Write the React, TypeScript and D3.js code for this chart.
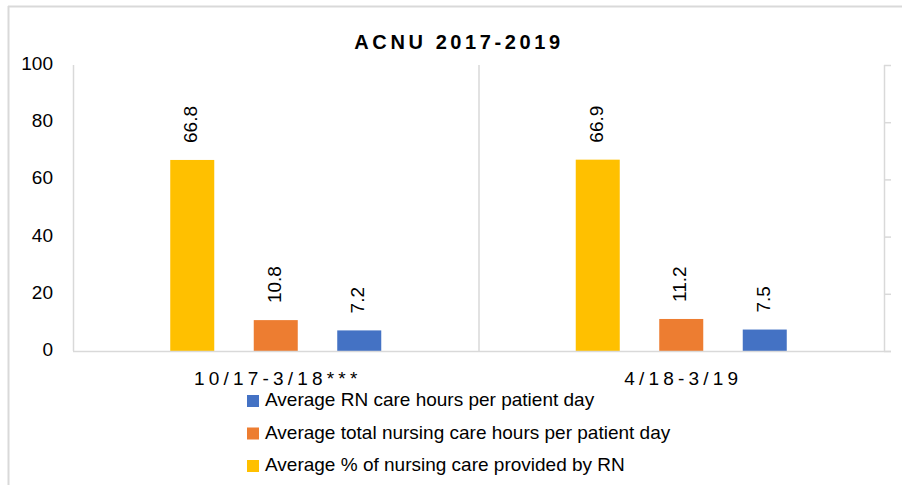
import * as d3 from 'd3'

const periods = ['10/17-3/18***', '4/18-3/19']
const seriesNames = [
  'Average % of nursing care provided by RN',
  'Average total nursing care hours per patient day',
  'Average RN care hours per patient day',
]
const pctByRN = [66.8, 66.9]
const totalHours = [10.8, 11.2]
const rnHours = [7.2, 7.5]
const yTicks = [0, 20, 40, 60, 80, 100]

const colors = ['#FFC000', '#ED7D31', '#4472C4']
const grid = '#D9D9D9'
const font = '"Liberation Sans", Arial, sans-serif'

export default function App() {
  const width = 902
  const height = 485
  const plotLeft = 73
  const plotRight = 884
  const plotTop = 65
  const plotBottom = 351

  const series = [pctByRN, totalHours, rnHours]

  const x = d3.scaleBand<string>().domain(periods).range([plotLeft, plotRight])
  // bar cluster: 44px bars, 83.5px step, centred in each category
  const groupW = 250.5
  const inner = d3
    .scaleBand<number>()
    .domain([0, 1, 2])
    .range([x.bandwidth() / 2 - groupW / 2, x.bandwidth() / 2 + groupW / 2])
    .paddingInner(0.473)
    .paddingOuter(0.2365)
  const y = d3.scaleLinear().domain([0, 100]).range([plotBottom, plotTop])

  // legend shows series in reverse order
  const legendOrder = [2, 1, 0]

  return (
    <svg
      width={width}
      height={height}
      style={{ display: 'block', position: 'absolute', left: 0, top: 0 }}
      fontFamily={font}
    >
      <rect width={width} height={height} fill="#fff" />
      {/* outer frame */}
      <line x1={8.5} x2={8.5} y1={6} y2={height} stroke={grid} strokeWidth={2} />
      <line x1={8} x2={width} y1={6.5} y2={6.5} stroke={grid} strokeWidth={2} />

      <text
        x={459}
        y={49}
        textAnchor="middle"
        fontWeight="bold"
        fontSize={20}
        letterSpacing={3.6}
        fill="#000"
      >
        ACNU 2017-2019
      </text>

      {/* y labels */}
      {yTicks.map((t) => (
        <text
          key={t}
          x={53}
          y={y(t)}
          textAnchor="end"
          dominantBaseline="middle"
          fontSize={19}
          fill="#000"
        >
          {t}
        </text>
      ))}

      {/* axes and separators */}
      <line x1={plotLeft + 0.5} x2={plotLeft + 0.5} y1={plotTop} y2={plotBottom} stroke={grid} strokeWidth={1.5} />
      <line x1={plotRight + 0.5} x2={plotRight + 0.5} y1={plotTop} y2={plotBottom} stroke={grid} strokeWidth={1.5} />
      {periods.slice(1).map((p) => (
        <line
          key={p}
          x1={(x(p) as number) + 0.5}
          x2={(x(p) as number) + 0.5}
          y1={plotTop}
          y2={plotBottom}
          stroke={grid}
          strokeWidth={1.5}
        />
      ))}
      {yTicks.map((t) => (
        <line
          key={t}
          x1={plotRight}
          x2={plotRight + 7}
          y1={y(t) + 0.5}
          y2={y(t) + 0.5}
          stroke={grid}
          strokeWidth={1.5}
        />
      ))}

      {/* bars */}
      {periods.map((p, i) => (
        <g key={p} transform={`translate(${x(p)},0)`}>
          {series.map((s, j) => {
            const bx = inner(j) as number
            const bw = inner.bandwidth()
            const top = y(s[i])
            return (
              <g key={j}>
                <rect x={bx} y={top} width={bw} height={plotBottom - top} fill={colors[j]} />
                <text
                  transform={`translate(${bx + bw / 2},${top - 17}) rotate(-90)`}
                  dominantBaseline="middle"
                  fontSize={19}
                  fill="#000"
                >
                  {s[i].toFixed(1)}
                </text>
              </g>
            )
          })}
          <text
            x={x.bandwidth() / 2 + 2}
            y={385}
            textAnchor="middle"
            fontSize={19}
            letterSpacing={4.2}
            fill="#000"
          >
            {p}
          </text>
        </g>
      ))}

      <line x1={plotLeft} x2={plotRight + 7} y1={plotBottom + 0.5} y2={plotBottom + 0.5} stroke={grid} strokeWidth={1.5} />

      {/* legend */}
      {legendOrder.map((j, k) => (
        <g key={j} transform={`translate(247,${401 + k * 32.5})`}>
          <rect x={0} y={-6} width={12} height={12} fill={colors[j]} />
          <text x={18} y={0} dominantBaseline="middle" fontSize={19} fill="#000">
            {seriesNames[j]}
          </text>
        </g>
      ))}
    </svg>
  )
}
